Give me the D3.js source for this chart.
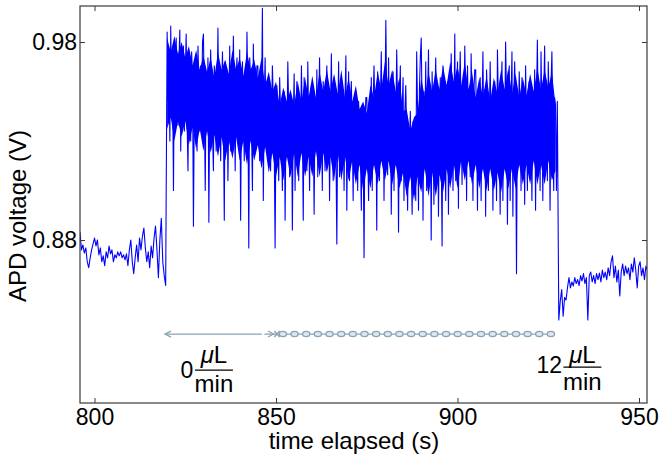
<!DOCTYPE html>
<html><head><meta charset="utf-8">
<script src="https://cdn.jsdelivr.net/npm/d3@7"></script>
<style>body{margin:0;background:#fff}svg{display:block}text{font-family:"Liberation Sans",Arial,sans-serif}</style>
</head><body>
<svg id="c" width="664" height="460"></svg>
<script>
// ---- data ----
const preStart = 796.0, preStep = 0.4;
const preVals = [0.884,0.875,0.8775,0.8734,0.876,0.869,0.866,0.871,0.875,0.878,
 0.881,0.877,0.880,0.8725,0.876,0.869,0.872,0.867,0.874,0.871,
 0.877,0.873,0.875,0.869,0.8725,0.871,0.874,0.872,0.874,0.871,
 0.8725,0.870,0.873,0.867,0.875,0.880,0.869,0.863,0.871,0.8775,
 0.869,0.881,0.875,0.882,0.886,0.876,0.869,0.874,0.866,0.877,
 0.871,0.881,0.887,0.875,0.861,0.880,0.891,0.869,0.862,0.857];
// 12 uL/min section, one row per 5 s
const highStart = 820.0, highStep = 0.25;
const highVals = [
 0.985,0.95,0.972,0.93,0.988,0.945,0.962,0.905,0.975,0.94,0.982,0.952,0.938,0.97,0.986,0.925,0.96,0.948,0.978,0.935,
 0.965,0.984,0.94,0.915,0.97,0.955,0.93,0.975,0.962,0.887,0.95,0.97,0.94,0.925,0.978,0.958,0.935,0.968,0.945,0.98,
 0.984,0.95,0.905,0.962,0.94,0.972,0.889,0.955,0.976,0.945,0.935,0.915,0.968,0.958,0.925,0.95,0.987,0.94,0.962,0.92,
 0.955,0.975,0.94,0.89,0.97,0.948,0.96,0.91,0.945,0.978,0.925,0.958,0.94,0.983,0.95,0.915,0.962,0.972,0.935,0.952,
 0.976,0.89,0.955,0.97,0.945,0.92,0.96,0.94,0.985,0.95,0.876,0.972,0.962,0.938,0.905,0.979,0.948,0.925,0.958,0.968,
 0.968,0.94,0.92,0.955,0.948,0.997,0.90,0.95,0.972,0.935,0.96,0.93,0.962,0.945,0.915,0.94,0.968,0.95,0.93,0.876,
 0.94,0.958,0.93,0.91,0.962,0.945,0.935,0.905,0.948,0.955,0.89,0.94,0.93,0.97,0.945,0.912,0.938,0.952,0.885,0.942,
 0.964,0.905,0.945,0.96,0.935,0.91,0.952,0.93,0.968,0.94,0.89,0.962,0.948,0.928,0.915,0.97,0.94,0.905,0.955,0.958,
 0.958,0.94,0.893,0.95,0.93,0.966,0.912,0.945,0.972,0.935,0.952,0.905,0.96,0.94,0.915,0.948,0.968,0.93,0.955,0.90,
 0.945,0.974,0.935,0.91,0.962,0.95,0.928,0.878,0.94,0.97,0.912,0.955,0.935,0.958,0.945,0.905,0.95,0.973,0.895,0.94,
 0.965,0.91,0.948,0.96,0.935,0.90,0.952,0.93,0.955,0.94,0.905,0.95,0.935,0.925,0.895,0.948,0.93,0.871,0.938,0.952,
 0.952,0.93,0.90,0.94,0.935,0.962,0.905,0.95,0.968,0.94,0.955,0.885,0.965,0.945,0.91,0.95,0.975,0.935,0.958,0.90,
 0.945,0.991,0.95,0.913,0.972,0.94,0.955,0.893,0.935,0.965,0.905,0.95,0.938,0.976,0.945,0.884,0.952,0.968,0.91,0.945,
 0.962,0.90,0.945,0.958,0.93,0.895,0.935,0.925,0.945,0.918,0.893,0.94,0.928,0.915,0.90,0.975,0.945,0.895,0.955,0.972,
 0.982,0.945,0.89,0.955,0.935,0.97,0.905,0.948,0.976,0.93,0.952,0.88,0.965,0.94,0.898,0.95,0.972,0.935,0.955,0.892,
 0.94,0.962,0.928,0.877,0.968,0.948,0.935,0.90,0.952,0.96,0.893,0.945,0.935,0.974,0.95,0.905,0.94,0.984,0.91,0.955,
 0.97,0.896,0.955,0.975,0.94,0.908,0.958,0.935,0.978,0.948,0.90,0.968,0.94,0.952,0.912,0.974,0.945,0.90,0.955,0.966,
 0.966,0.94,0.895,0.95,0.935,0.962,0.90,0.945,0.975,0.93,0.956,0.892,0.966,0.948,0.905,0.94,0.97,0.935,0.952,0.895,
 0.945,0.96,0.935,0.90,0.976,0.95,0.93,0.893,0.955,0.97,0.90,0.946,0.935,0.98,0.952,0.888,0.94,0.968,0.90,0.95,
 0.975,0.892,0.952,0.97,0.94,0.863,0.948,0.935,0.965,0.945,0.905,0.962,0.938,0.95,0.898,0.968,0.94,0.905,0.955,0.96,
 0.958,0.94,0.90,0.955,0.935,0.966,0.895,0.948,0.981,0.938,0.955,0.905,0.975,0.945,0.90,0.952,0.978,0.935,0.958,0.91,
 0.97,0.945,0.895,0.958,0.975,0.94,0.905,0.952,0.948,0.905,0.95];
const postStart = 927.9, postStep = 0.4;
const postVals = [0.8396,0.849,0.855,0.8415,0.851,0.8497,0.856,0.861,0.8558,0.8588,
 0.8568,0.861,0.858,0.860,0.857,0.862,0.8593,0.863,0.858,0.861,
 0.8396,0.862,0.8638,0.8588,0.862,0.858,0.863,0.860,0.8633,0.8588,
 0.8648,0.861,0.8638,0.860,0.8659,0.862,0.869,0.872,0.861,0.8668,
 0.8588,0.8648,0.8517,0.8638,0.8679,0.862,0.8668,0.863,0.8659,0.860,
 0.8679,0.8638,0.871,0.8648,0.8558,0.8668,0.869,0.862,0.8659,0.860,
 0.8668,0.8648];
// per-second upper / lower edge of the solid, overlapping part of the trace (820 .. 927 s)
const coreStart = 820, coreStep = 1;
const coreHi = [
 0.982,0.975,0.983,0.974,0.980,0.972,0.978,0.968,0.976,0.966,
 0.973,0.965,0.972,0.962,0.975,0.966,0.971,0.964,0.976,0.966,
 0.972,0.963,0.975,0.966,0.971,0.962,0.972,0.958,0.965,0.955,
 0.960,0.948,0.957,0.950,0.956,0.948,0.960,0.950,0.962,0.952,
 0.963,0.952,0.965,0.955,0.966,0.955,0.964,0.954,0.966,0.952,
 0.962,0.950,0.958,0.946,0.950,0.944,0.958,0.952,0.965,0.956,
 0.970,0.958,0.966,0.955,0.962,0.945,0.946,0.935,0.942,0.944,
 0.962,0.952,0.965,0.955,0.966,0.956,0.968,0.958,0.970,0.960,
 0.968,0.958,0.970,0.956,0.965,0.952,0.962,0.952,0.963,0.950,
 0.962,0.954,0.966,0.956,0.967,0.954,0.964,0.952,0.962,0.953,
 0.964,0.955,0.967,0.956,0.966,0.957,0.965,0.948];
const coreLo = [
 0.936,0.942,0.930,0.940,0.932,0.940,0.928,0.937,0.926,0.936,
 0.925,0.935,0.924,0.933,0.922,0.932,0.920,0.930,0.921,0.932,
 0.920,0.930,0.918,0.930,0.920,0.928,0.916,0.927,0.914,0.924,
 0.912,0.922,0.910,0.922,0.912,0.924,0.912,0.924,0.912,0.922,
 0.912,0.925,0.912,0.924,0.914,0.922,0.910,0.924,0.910,0.922,
 0.910,0.920,0.908,0.918,0.905,0.916,0.906,0.918,0.908,0.920,
 0.910,0.920,0.908,0.918,0.906,0.914,0.902,0.912,0.900,0.912,
 0.904,0.916,0.902,0.914,0.902,0.913,0.904,0.916,0.906,0.918,
 0.906,0.920,0.910,0.920,0.908,0.918,0.906,0.916,0.905,0.916,
 0.905,0.914,0.904,0.916,0.906,0.916,0.906,0.918,0.908,0.918,
 0.908,0.920,0.908,0.918,0.908,0.920,0.910,0.915];
const xTicks = [800, 850, 900, 950];
const yTicks = [0.88, 0.98];
const xTitle = "time elapsed (s)";
const yTitle = "APD voltage (V)";
const flowRates = ["0", "12"];
const flowUnitTop = ["μ", "L"], flowUnitBottom = "min";

// ---- layout ----
const svg = d3.select("#c");
const L = 80, R = 647, T = 6, B = 403;
const x = d3.scaleLinear().domain([796.0, 952.2]).range([L, R]);
const y = d3.scaleLinear().domain([0.79768, 0.99818]).range([B, T]);
const axisCol = "#3a3a3a";

svg.append("defs").append("clipPath").attr("id","clip")
  .append("rect").attr("x",L).attr("y",T).attr("width",R-L).attr("height",B-T);
const g = svg.append("g").attr("clip-path","url(#clip)");

const core = coreHi.map((h,i)=>({t: coreStart + i*coreStep, hi:h, lo:coreLo[i]}));
g.append("path").datum(core)
  .attr("fill","#0000ff")
  .attr("d", d3.area().x(d=>x(d.t)).y0(d=>y(d.lo)).y1(d=>y(d.hi)));

const pts = [];
preVals.forEach((v,i)=>pts.push([preStart+i*preStep, v]));
highVals.forEach((v,i)=>pts.push([highStart+i*highStep, v]));
postVals.forEach((v,i)=>pts.push([postStart+i*postStep, v]));
g.append("path").datum(pts)
  .attr("fill","none").attr("stroke","#0000ff").attr("stroke-width",1.1)
  .attr("stroke-linejoin","round")
  .attr("d", d3.line().x(d=>x(d[0])).y(d=>y(d[1])));

// axes with inward ticks on all four sides
const fs = 23;
const ax = svg.append("g").attr("transform",`translate(0,${B})`)
  .call(d3.axisBottom(x).tickValues(xTicks).tickFormat(d3.format("d")).tickSize(-5).tickPadding(6));
const ay = svg.append("g").attr("transform",`translate(${L},0)`)
  .call(d3.axisLeft(y).tickValues(yTicks).tickFormat(d3.format(".2f")).tickSize(-5).tickPadding(3));
const axT = svg.append("g").attr("transform",`translate(0,${T})`)
  .call(d3.axisTop(x).tickValues(xTicks).tickFormat("").tickSize(-5));
const ayR = svg.append("g").attr("transform",`translate(${R},0)`)
  .call(d3.axisRight(y).tickValues(yTicks).tickFormat("").tickSize(-5));
[ax,ay,axT,ayR].forEach(a=>{
  a.select(".domain").remove();
  a.selectAll("line").attr("stroke",axisCol).attr("stroke-width",1);
  a.selectAll("text").attr("font-size",fs).attr("fill","#000")
   .attr("font-family","'Liberation Sans',Arial,sans-serif");
});
svg.append("rect").attr("x",L).attr("y",T).attr("width",R-L).attr("height",B-T)
  .attr("fill","none").attr("stroke",axisCol).attr("stroke-width",1.2);

svg.append("text").attr("x",354).attr("y",449).attr("text-anchor","middle")
  .attr("font-size",24).text(xTitle);
svg.append("text").attr("transform","translate(26,216) rotate(-90)").attr("text-anchor","middle")
  .attr("font-size",24).text(yTitle);

// flow-rate annotation arrow
const arrowV = 0.8325, arrowCol = "#8aa4b3";
const ay0 = y(arrowV);
const a = svg.append("g").attr("stroke",arrowCol).attr("fill","none").attr("stroke-width",1.3);
a.append("line").attr("x1",x(819.4)).attr("x2",x(846.1)).attr("y1",ay0).attr("y2",ay0);
a.append("path").attr("d",`M${x(819.4)+6},${ay0-3}L${x(819.4)},${ay0}L${x(819.4)+6},${ay0+3}`);
a.append("line").attr("x1",x(846.8)).attr("x2",x(926.5)).attr("y1",ay0).attr("y2",ay0);
a.append("path").attr("d",`M${x(847.8)},${ay0-3}L${x(849.3)},${ay0}L${x(847.8)},${ay0+3}`);
a.append("path").attr("d",`M${x(849.5)},${ay0-3}L${x(851)},${ay0+3}M${x(849.5)},${ay0+3}L${x(851)},${ay0-3}`);
const circT = d3.range(851.9, 926.0, 3.21);
a.selectAll("ellipse").data(circT).join("ellipse")
  .attr("cx",d=>x(d)).attr("cy",ay0).attr("rx",3.6).attr("ry",2.6)
  .attr("fill","#dfe7ec");

function flowLabel(rate, tEnd, tMid, vNum, vBar, vDen, vUnit) {
  const gl = svg.append("g").attr("fill","#000");
  gl.append("text").attr("x",x(tEnd)).attr("y",y(vNum)).attr("text-anchor","end")
    .attr("font-size",23).text(rate);
  const tt = gl.append("text").attr("x",x(tMid)).attr("y",y(vUnit)).attr("text-anchor","middle")
    .attr("font-size",24);
  tt.append("tspan").attr("font-style","italic").text(flowUnitTop[0]);
  tt.append("tspan").text(flowUnitTop[1]);
  gl.append("line").attr("x1",x(tMid)-19).attr("x2",x(tMid)+19).attr("y1",y(vBar)).attr("y2",y(vBar))
    .attr("stroke","#000").attr("stroke-width",1.3);
  gl.append("text").attr("x",x(tMid)).attr("y",y(vDen)).attr("text-anchor","middle")
    .attr("font-size",24).text(flowUnitBottom);
}
flowLabel(flowRates[0], 827.2, 832.9, 0.8103, 0.8143, 0.8032, 0.8179);
flowLabel(flowRates[1], 928.8, 934.4, 0.8128, 0.8158, 0.8042, 0.8179);
</script>
</body></html>
